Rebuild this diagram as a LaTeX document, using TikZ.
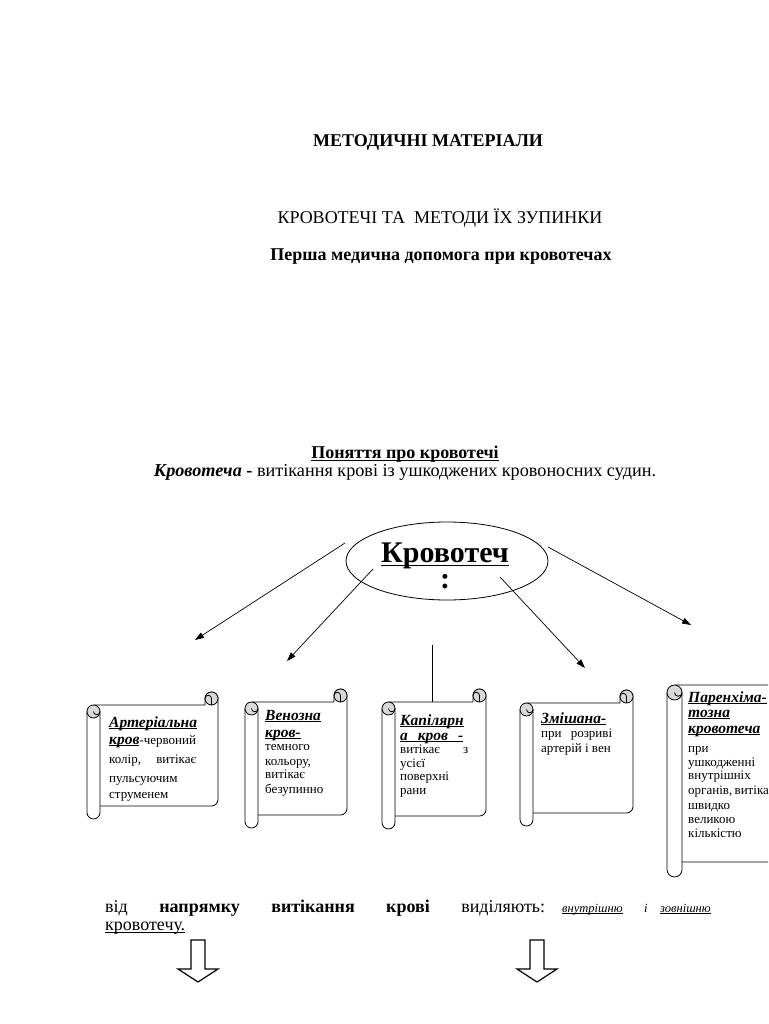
\documentclass[tikz,border=0pt]{standalone}
\usepackage{fontspec}
\setmainfont{Liberation Serif}
\usetikzlibrary{arrows.meta,shapes.geometric}

\newsavebox{\ulbox}
\newcommand{\uln}[1]{\sbox{\ulbox}{#1}\rlap{\rule[-0.14em]{\wd\ulbox}{0.05em}}\usebox{\ulbox}}
\newcommand{\titlefont}{\fontsize{18}{21}\selectfont}
\newcommand{\kindfont}{\fontsize{30}{34}\selectfont\bfseries}
\newcommand{\headfont}{\fontsize{15.5}{18}\selectfont\bfseries\itshape}
\newcommand{\notefont}{\fontsize{13}{15}\selectfont\mdseries\upshape}
\newcommand{\slimfont}{\fontsize{12.5}{15}\selectfont\itshape}

\tikzset{
  txt/.style={inner sep=0pt, anchor=base west},
  mid/.style={inner sep=0pt, anchor=base},
  scrl/.style={line width=0.8pt, line join=round},
  curl/.style={line width=0.8pt, fill=gray!30},
  ray/.style={line width=0.7pt, -{Triangle[length=9pt,width=6pt]}},
  hollow/.style={line width=1.2pt, line join=miter},
}

% vertical scroll: left, right, top, bottom, roll width
\newcommand{\vscroll}[5]{%
  \pgfmathsetmacro{\scL}{#1}%
  \pgfmathsetmacro{\scR}{#2}%
  \pgfmathsetmacro{\scT}{#3}%
  \pgfmathsetmacro{\scB}{#4}%
  \pgfmathsetmacro{\scC}{#5}%
  \pgfmathsetmacro{\scH}{#5/2}%
  % sheet
  \draw[scrl, fill=white] (\scL+\scH, \scT+\scC) -- (\scR-\scC, \scT+\scC)
    -- (\scR-\scC, \scT+\scH) arc[start angle=180, end angle=360, radius=\scH]
    -- (\scR, \scB-\scC-\scH) arc[start angle=0, end angle=90, radius=\scH]
    -- (\scL+\scC, \scB-\scC);
  % left roll
  \draw[scrl, fill=white] (\scL, \scT+\scC+\scH) -- (\scL, \scB-\scH)
    arc[start angle=180, end angle=0, radius=\scH] -- (\scL+\scC, \scT+\scC+\scH) -- cycle;
  % curls
  \draw[curl] (\scL+\scH, \scT+\scC+\scH) circle[radius=\scH];
  \draw[scrl] (\scL+\scC, \scT+\scC+\scH) arc[start angle=0, end angle=180, radius=\scH/2];
  \draw[curl] (\scR-\scH, \scT+\scH) circle[radius=\scH];
  \draw[scrl] (\scR-\scH, \scT+\scC) -- (\scR-\scH, \scT+\scH)
    arc[start angle=0, end angle=-180, radius=\scH/2];
}

\begin{document}
\begin{tikzpicture}[x=1pt,y=-1pt]
  \useasboundingbox (0,0) rectangle (768,1024);
  \clip (0,0) rectangle (768,1024);
  \fill[white] (0,0) rectangle (768,1024);

  % Headings
  \node[mid] (title) at (428,147) {\titlefont\bfseries МЕТОДИЧНІ МАТЕРІАЛИ};
  \node[mid] (topic) at (440,224) {\titlefont КРОВОТЕЧІ ТА \ МЕТОДИ ЇХ ЗУПИНКИ};
  \node[mid] (aid) at (441,260) {\titlefont\bfseries Перша медична допомога при кровотечах};
  \node[mid] (notion) at (405,458) {\titlefont\bfseries\uln{Поняття про кровотечі}};
  \node[mid] (define) at (405,476) {\fontsize{18.2}{21}\selectfont\textbf{\textit{Кровотеча}} \textbf{-} витікання крові із ушкоджених кровоносних судин.};

  % Ellipse
  \node[draw, ellipse, line width=0.8pt, minimum width=202pt, minimum height=78pt, inner sep=0pt] (kind) at (447,561) {};
  \node[mid] (kindword) at (445,562) {\kindfont\uln{Кровотеч}};
  \node[mid] (kindcolon) at (445,588) {\kindfont :};

  % Rays
  \coordinate (a1) at (345,543); \coordinate (b1) at (195,640);
  \coordinate (a2) at (373,569); \coordinate (b2) at (287,661);
  \coordinate (a3) at (500,577); \coordinate (b3) at (585,668);
  \coordinate (a4) at (548,547); \coordinate (b4) at (691,625);
  \coordinate (a5) at (432,645); \coordinate (b5) at (432,702);
  \draw[ray] (a1) -- (b1);
  \draw[ray] (a2) -- (b2);
  \draw[ray] (a3) -- (b3);
  \draw[ray] (a4) -- (b4);
  \draw[line width=0.7pt] (a5) -- (b5);

  % Scrolls
  \vscroll{87}{218}{692}{819}{13}
  \vscroll{245}{347}{689}{828}{13}
  \vscroll{382}{486}{689}{829}{13}
  \vscroll{520}{633}{690}{826}{13}
  \vscroll{667}{800}{670}{877}{15}

  % arterial
  \node[txt] (art1) at (109,727) {\headfont\uln{Артеріальна}};
  \node[txt] (art2) at (109,744) {\headfont\uln{кров}\notefont-червоний};
  \node[txt] (art3) at (109,763) {\notefont\makebox[87pt][s]{колір, витікає}};
  \node[txt] (art4) at (109,782) {\notefont пульсуючим};
  \node[txt] (art5) at (109,798) {\notefont струменем};

  % venous
  \node[txt] (ven1) at (265,720) {\headfont\uln{Венозна}};
  \node[txt] (ven2) at (265,737) {\headfont\uln{кров-}};
  \node[txt] (ven3) at (265,750) {\notefont темного};
  \node[txt] (ven4) at (265,765) {\notefont кольору,};
  \node[txt] (ven5) at (265,778) {\notefont витікає};
  \node[txt] (ven6) at (265,793) {\notefont безупинно};

  % capillary
  \node[txt] (cap1) at (400,725) {\headfont\uln{Капілярн}};
  \node[txt] (cap2) at (400,740) {\headfont\uln{\makebox[63pt][s]{а кров -}}};
  \node[txt] (cap3) at (400,753) {\notefont\makebox[68pt][s]{витікає з}};
  \node[txt] (cap4) at (400,767) {\notefont усієї};
  \node[txt] (cap5) at (400,780) {\notefont поверхні};
  \node[txt] (cap6) at (400,794) {\notefont рани};

  % mixed
  \node[txt] (mix1) at (541,723) {\headfont\uln{Змішана-}};
  \node[txt] (mix2) at (541,737) {\notefont\makebox[71pt][s]{при розриві}};
  \node[txt] (mix3) at (541,752) {\notefont артерій і вен};

  % parenchymal
  \node[txt] (par1) at (688,702) {\headfont\uln{Паренхіма-}};
  \node[txt] (par2) at (688,717) {\headfont\uln{тозна}};
  \node[txt] (par3) at (688,733) {\headfont\uln{кровотеча}};
  \node[txt] (par4) at (688,752) {\notefont при};
  \node[txt] (par5) at (688,766) {\notefont ушкодженні};
  \node[txt] (par6) at (688,779) {\notefont внутрішніх};
  \node[txt] (par7) at (688,794) {\notefont\makebox[82pt][s]{органів, витікає}};
  \node[txt] (par8) at (688,809) {\notefont швидко};
  \node[txt] (par9) at (688,823) {\notefont великою};
  \node[txt] (par10) at (688,837) {\notefont кількістю};

  % direction text
  \node[txt] (dir1) at (105,912) {\titlefont\makebox[440pt][s]{від \textbf{напрямку витікання крові} виділяють:}};
  \node[txt] (inner) at (562,912) {\slimfont\uln{внутрішню}};
  \node[txt] (conj) at (644,912) {\slimfont і};
  \node[txt] (outer) at (660,912) {\slimfont\uln{зовнішню}};
  \node[txt] (dir2) at (105,930) {\titlefont\uln{кровотечу.}};

  % hollow arrows
  \draw[hollow] (191,940) -- (205,940) -- (205,969) -- (218,969) -- (198,982) -- (178,969) -- (191,969) -- cycle;
  \draw[hollow] (530,940) -- (544,940) -- (544,969) -- (557,969) -- (537,982) -- (517,969) -- (530,969) -- cycle;
\end{tikzpicture}
\end{document}
